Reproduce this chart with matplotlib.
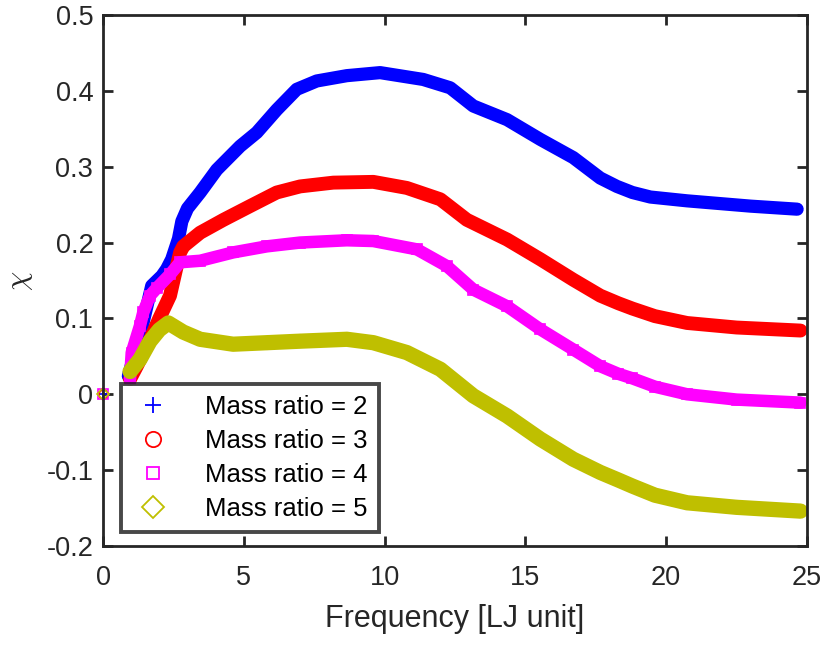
import numpy as np
import matplotlib
matplotlib.use('Agg')
import matplotlib.pyplot as plt
from matplotlib.lines import Line2D

plt.rcParams['font.family'] = ['Liberation Sans', 'DejaVu Sans']
plt.rcParams['mathtext.fontset'] = 'cm'

# Data (centre of each marker band)
freq_m2 = [0, 0.9, 1.37, 1.73, 2.09, 2.26, 2.44, 2.68, 2.8, 3.0, 3.45, 4.04, 4.87, 5.46,
           6.17, 6.88, 7.59, 8.66, 9.84, 11.37, 12.33, 13.15, 14.35, 15.53, 16.7, 17.66,
           18.25, 18.8, 19.44, 20.74, 23.0, 24.65]
chi_m2 = [0, 0.024, 0.086, 0.143, 0.156, 0.165, 0.178, 0.205, 0.228, 0.245, 0.266, 0.296,
          0.327, 0.345, 0.375, 0.402, 0.413, 0.42, 0.424, 0.415, 0.404, 0.38, 0.362, 0.336,
          0.312, 0.285, 0.274, 0.266, 0.26, 0.255, 0.248, 0.244]

freq_m3 = [0, 0.96, 1.2, 1.67, 2.0, 2.38, 2.62, 2.74, 2.85, 3.45, 4.28, 5.22, 6.17, 7.0,
           8.18, 9.6, 10.79, 11.98, 12.92, 14.35, 15.53, 16.7, 17.66, 18.3, 18.8, 19.6,
           20.74, 22.5, 24.77]
chi_m3 = [0, 0.02, 0.037, 0.072, 0.1, 0.13, 0.169, 0.187, 0.195, 0.213, 0.23, 0.248, 0.266,
          0.274, 0.279, 0.28, 0.272, 0.257, 0.23, 0.204, 0.178, 0.151, 0.13, 0.12, 0.113,
          0.103, 0.094, 0.088, 0.084]

freq_m4 = [0, 0.96, 1.02, 1.31, 1.43, 1.67, 1.91, 2.38, 2.74, 3.45, 4.62, 5.82, 7.0, 8.66,
           9.6, 11.15, 12.21, 13.15, 14.35, 15.53, 16.7, 17.66, 18.3, 18.8, 19.6, 20.74,
           22.5, 24.77]
chi_m4 = [0, 0.02, 0.055, 0.09, 0.108, 0.13, 0.14, 0.158, 0.174, 0.176, 0.187, 0.195, 0.2,
          0.203, 0.202, 0.191, 0.169, 0.138, 0.116, 0.0856, 0.059, 0.037, 0.027, 0.021,
          0.01, 0.0, -0.007, -0.011]

freq_m5 = [0, 0.96, 1.31, 1.67, 2.0, 2.32, 2.85, 3.45, 4.62, 5.82, 7.0, 8.66, 9.6, 10.79,
           11.98, 13.15, 14.35, 15.53, 16.7, 17.66, 18.3, 18.8, 19.6, 20.74, 22.5, 24.77]
chi_m5 = [0, 0.03, 0.046, 0.07, 0.085, 0.094, 0.082, 0.0725, 0.066, 0.068, 0.070, 0.0725,
          0.068, 0.055, 0.033, -0.002, -0.0286, -0.059, -0.0856, -0.103, -0.113, -0.121,
          -0.133, -0.143, -0.149, -0.154]

series = [
    ('Mass ratio = 2', freq_m2, chi_m2, (0, 0, 1), '+', 9.5),
    ('Mass ratio = 3', freq_m3, chi_m3, (1, 0, 0), 'o', 10),
    ('Mass ratio = 4', freq_m4, chi_m4, (1, 0, 1), 's', 9),
    ('Mass ratio = 5', freq_m5, chi_m5, (0.75, 0.75, 0), 'D', 11),
]

fig = plt.figure(figsize=(8.28, 6.48), dpi=100)
ax = fig.add_axes([0.1244, 0.1574, 0.8502, 0.8195])

handles = []
for label, fx, cy, col, mk, lw in series:
    # dense marker band drawn as a thick line, individual markers on top
    ax.plot(fx[1:], cy[1:], '-', color=col, lw=lw, solid_capstyle='round',
            solid_joinstyle='round')
    ax.plot(fx, cy, mk, color=col, mfc='none', ms=6.5, mew=1.2, clip_on=False)
    handles.append(Line2D([], [], ls='none', marker=mk, color=col, mfc='none',
                          ms=11 if mk != 's' else 9, mew=1.3, label=label))

ax.set_xlim(0, 25)
ax.set_ylim(-0.2, 0.5)
ax.set_xticks([0, 5, 10, 15, 20, 25])
ax.set_yticks(np.round(np.arange(-0.2, 0.51, 0.1), 1))
ax.set_yticklabels(['-0.2', '-0.1', '0', '0.1', '0.2', '0.3', '0.4', '0.5'])
ax.tick_params(direction='in', length=7, width=2, colors='#262626', labelsize=19.5,
               top=True, right=True)
ax.tick_params(axis='x', pad=14)
ax.tick_params(axis='y', pad=7)
for sp in ax.spines.values():
    sp.set_linewidth(2)
    sp.set_color('#262626')

ax.set_xlabel('Frequency [LJ unit]', fontsize=22, color='#262626', labelpad=9)
ax.set_ylabel(r'$\chi$', fontsize=22, color='#262626', labelpad=8)

leg = ax.legend(handles=handles, loc='lower left', bbox_to_anchor=(0.0256, 0.026),
                borderaxespad=0, fontsize=18.5, frameon=True, fancybox=False,
                handlelength=1.6, handletextpad=1.2, labelspacing=0.38,
                borderpad=0.45)
leg.get_frame().set_edgecolor('#1a1a1a')
leg.get_frame().set_linewidth(2.8)

fig.savefig('out.png', dpi=100)
